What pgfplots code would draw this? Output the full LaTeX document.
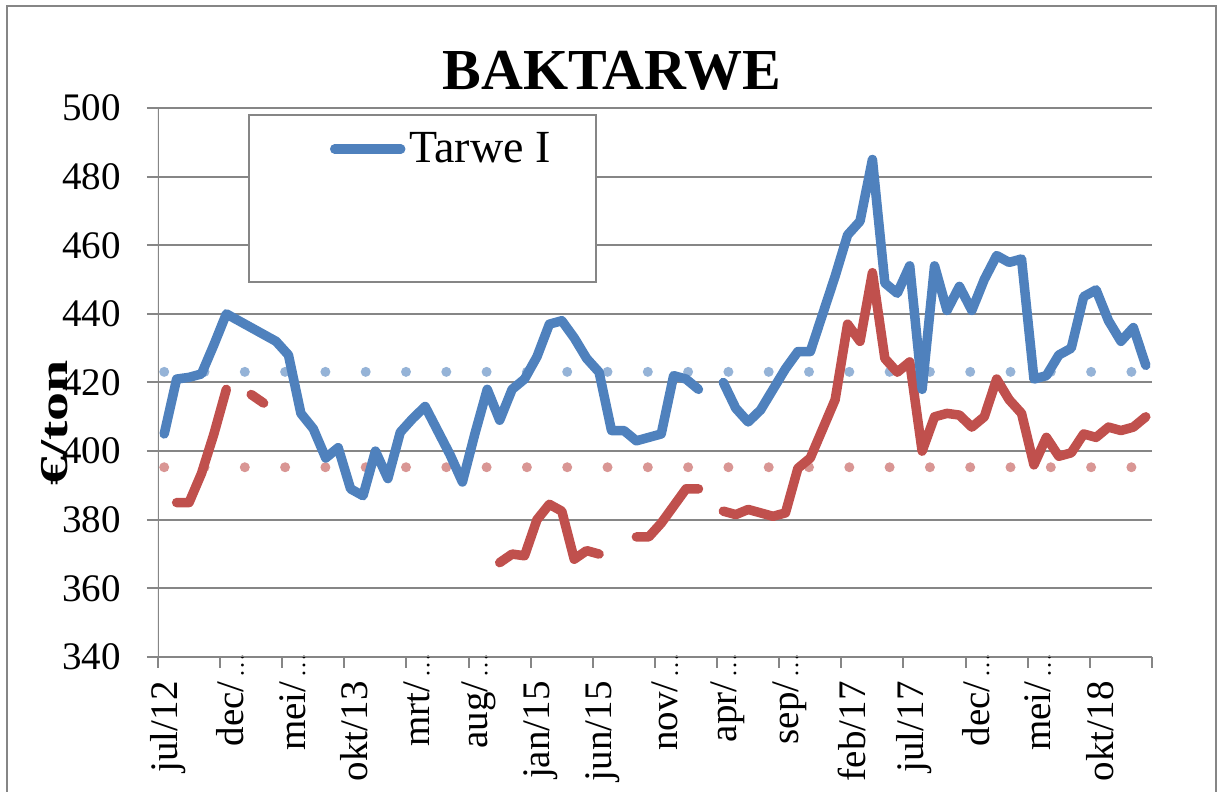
\documentclass[border=0pt]{standalone}
\usepackage{fontspec}
\setmainfont{Liberation Serif}
\usepackage{pgfplots}
\pgfplotsset{compat=1.18}
\usepackage{pgfplotstable}
\usetikzlibrary{calc}

\definecolor{tblue}{HTML}{4F81BD}
\definecolor{tred}{HTML}{C0504D}
\definecolor{dblue}{HTML}{95B3D7}
\definecolor{dred}{HTML}{D99694}
\definecolor{gridgray}{HTML}{868686}

% ellipsis of the cut-off month labels
\newcommand{\afk}{\rlap{\hspace{2pt}\fontsize{12}{12}\selectfont …}}

% maandprijzen, 0 = jul/12
\pgfplotstableread{
i  blauw  rood
0  405    nan
1  421    385
2  421.5  385
3  422.5  393.5
4  431    405
5  440    418
6  438    nan
7  436    416.5
8  434    414
9  432    nan
10 428    nan
11 411    nan
12 406.5  nan
13 398    nan
14 401    nan
15 389    nan
16 387    nan
17 400    nan
18 392    nan
19 405.5  nan
20 409.5  nan
21 413    nan
22 406    nan
23 399    nan
24 391    nan
25 405    nan
26 418    nan
27 409    367.5
28 418    370
29 421    369.5
30 427.5  380
31 437    384.5
32 438    382.5
33 433    368.5
34 427    371
35 423    370
36 406    nan
37 406    nan
38 403    375
39 404    375
40 405    379
41 422    384
42 421    389
43 418    389
44 nan    nan
45 420    382.5
46 412.5  381.5
47 408.5  383
48 412    382
49 418    381
50 424    382
51 429    395
52 429    398
53 440    406.5
54 451    415
55 463    437
56 467    432
57 485    452
58 449    427
59 446    423
60 454    426
61 418    400
62 454    410
63 441    411
64 448    410.5
65 441    407
66 450    410
67 457    421
68 455    415
69 456    411
70 421    396
71 422    404
72 428    398.5
73 430    399.5
74 445    405
75 447    404
76 438    407
77 432    406
78 436    407
79 425    410
}\baktarwe

\pgfplotstableread{
i  gem
0  423.1
79 423.1
}\gemblauw

\pgfplotstableread{
i  gem
0  395.3
79 395.3
}\gemrood

\begin{document}
\begin{tikzpicture}
\begin{axis}[
    name=ax, at={(0,0)}, anchor=south west,
    scale only axis, width=497pt, height=274.5pt,
    xmin=-0.5, xmax=79.5, ymin=340, ymax=500,
    ytick={340,360,...,500},
    xtick={0,5,...,75},
    xticklabels={jul/12, dec/\afk, mei/\afk, okt/13, mrt/\afk, aug/\afk, jan/15, jun/15,
                 nov/\afk, apr/\afk, sep/\afk, feb/17, jul/17, dec/\afk, mei/\afk, okt/18},
    minor xtick={-0.5,4.5,...,79.5},
    xtick pos=left, ytick pos=left,
    tick align=outside,
    major tick length=5.5pt, minor tick length=5.5pt,
    tick style={draw=gridgray, line width=1pt},
    major x tick style={draw=none},
    axis line style={draw=none},
    ymajorgrids, grid style={draw=gridgray, line width=1pt},
    unbounded coords=jump,
    /pgf/number format/assume math mode=true,
    tick label style={font=\fontsize{19.5}{20}\selectfont},
    yticklabel style={xshift=-13pt, anchor=east, inner sep=0pt},
    xticklabel style={xshift=2pt, yshift=-6.5pt, rotate=90, anchor=east, inner sep=0pt},
    title={BAKTARWE},
    title style={at={(axis description cs:0.4567,1.011)}, anchor=base,
                 font=\bfseries\fontsize{29}{30}\selectfont, inner sep=0pt},
    ylabel={\scalebox{1}[0.68]{€/ton}},
    ylabel style={at={(axis description cs:-0.1036,0.4262)}, anchor=center,
                  font=\bfseries\fontsize{29}{30}\selectfont, inner sep=0pt},
    legend style={at={(axis description cs:0.1726,0.9253)}, anchor=west,
                  draw=none, fill=none, inner sep=0pt,
                  nodes={inner sep=2pt},
                  font=\fontsize{23}{23}\selectfont},
    legend image code/.code={\draw[#1, line cap=round] (0pt,0pt) -- (33pt,0pt);},
]
\draw[gridgray, line width=1pt, fill=white]
    (axis description cs:0.0916,0.6831) rectangle (axis description cs:0.4406,0.9872);
\draw[gridgray, line width=1pt]
    (axis description cs:0,1) -- (axis description cs:0,0) -- (axis description cs:1,0);

\addplot[dblue, line width=5pt, line cap=round, dash pattern=on 0pt off 20.15pt, forget plot]
    table[x=i, y=gem] {\gemblauw};
\addplot[dred, line width=5pt, line cap=round, dash pattern=on 0pt off 20.15pt, forget plot]
    table[x=i, y=gem] {\gemrood};
\addplot[tred, line width=4.75pt, line join=round, line cap=round, forget plot]
    table[x=i, y=rood] {\baktarwe};
\addplot[tblue, line width=4.75pt, line join=round, line cap=round]
    table[x=i, y=blauw] {\baktarwe};
\addlegendentry{Tarwe I}
\end{axis}
\pgfresetboundingbox
\path[use as bounding box] ($(ax.south west)+(-79pt,-67.5pt)$) rectangle ($(ax.south west)+(529.5pt,328.5pt)$);
\draw[gridgray, line width=1pt] ($(ax.south west)+(-75.5pt,-90pt)$) rectangle ($(ax.south west)+(529pt,325.5pt)$);
\end{tikzpicture}
\end{document}
